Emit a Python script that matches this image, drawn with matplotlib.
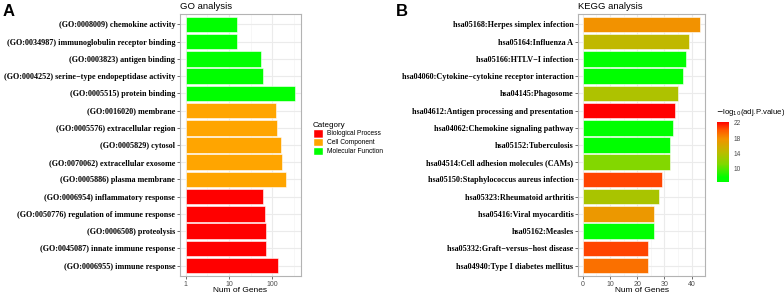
import numpy as np
import matplotlib
matplotlib.use('Agg')
import matplotlib.pyplot as plt
from matplotlib.patches import Patch
from matplotlib.colors import LinearSegmentedColormap, Normalize
from matplotlib.cm import ScalarMappable

# GO data (top to bottom)
go_terms = ['(GO:0008009) chemokine activity',
            '(GO:0034987) immunoglobulin receptor binding',
            '(GO:0003823) antigen binding',
            '(GO:0004252) serine\u2212type endopeptidase activity',
            '(GO:0005515) protein binding',
            '(GO:0016020) membrane',
            '(GO:0005576) extracellular region',
            '(GO:0005829) cytosol',
            '(GO:0070062) extracellular exosome',
            '(GO:0005886) plasma membrane',
            '(GO:0006954) inflammatory response',
            '(GO:0050776) regulation of immune response',
            '(GO:0006508) proteolysis',
            '(GO:0045087) innate immune response',
            '(GO:0006955) immune response']
go_counts = [15, 15, 56, 61, 340, 124, 131, 156, 165, 211, 61, 67, 70, 70, 133]
go_category = ['Molecular Function'] * 5 + ['Cell Component'] * 5 + ['Biological Process'] * 5
cat_names = ['Biological Process', 'Cell Component', 'Molecular Function']
cat_colors = {'Biological Process': '#FF0000', 'Cell Component': '#FFA500', 'Molecular Function': '#00FF00'}

# KEGG data (top to bottom)
kegg_terms = ['hsa05168:Herpes simplex infection',
              'hsa05164:Influenza A',
              'hsa05166:HTLV\u2212I infection',
              'hsa04060:Cytokine\u2212cytokine receptor interaction',
              'hsa04145:Phagosome',
              'hsa04612:Antigen processing and presentation',
              'hsa04062:Chemokine signaling pathway',
              'hsa05152:Tuberculosis',
              'hsa04514:Cell adhesion molecules (CAMs)',
              'hsa05150:Staphylococcus aureus infection',
              'hsa05323:Rheumatoid arthritis',
              'hsa05416:Viral myocarditis',
              'hsa05162:Measles',
              'hsa05332:Graft\u2212versus\u2212host disease',
              'hsa04940:Type I diabetes mellitus']
kegg_counts = [43, 39, 38, 37, 35, 34, 33, 32, 32, 29, 28, 26, 26, 24, 24]
kegg_logp = [17.8, 14.6, 7.0, 7.0, 13.6, 22.3, 7.0, 7.0, 11.4, 20.6, 13.4, 17.4, 7.0, 20.6, 19.2]

serif = 'Liberation Serif'
sans = 'Liberation Sans'
grid_c = '#EBEBEB'
border_c = '#B3B3B3'

cmap = LinearSegmentedColormap.from_list('gr', [(0.0, '#00FF00'), (0.08, '#00FF00'), (0.3, '#80D800'),
                                                 (0.5, '#BDBB00'), (0.72, '#F39200'), (0.86, '#FF5A00'),
                                                 (1.0, '#FF0000')])
norm = Normalize(6.5, 22.3)

fig = plt.figure(figsize=(7.84, 2.94), dpi=100)


def style_axes(ax):
    ax.set_facecolor('white')
    for s in ax.spines.values():
        s.set_color(border_c)
        s.set_linewidth(0.8)
    ax.set_axisbelow(True)
    ax.grid(True, which='major', color=grid_c, lw=0.8)
    ax.grid(True, which='minor', axis='x', color='#F4F4F4', lw=0.5)
    ax.tick_params(axis='y', length=2, width=0.5, color='#333333', pad=1.5)
    ax.tick_params(axis='x', length=2, width=0.5, color='#333333', pad=1.5, labelsize=5, labelcolor='#4D4D4D')
    for lab in ax.get_yticklabels():
        lab.set_fontfamily(serif)
        lab.set_fontweight('bold')
        lab.set_fontsize(5.85)
    for lab in ax.get_xticklabels():
        lab.set_fontfamily(sans)
    pos = ax.get_position()
    fig.text((pos.x0 + pos.x1) / 2, 1 - 290 / 294, 'Num of Genes', fontfamily=sans, fontsize=6,
             ha='center', va='center')


# Panel A
axA = fig.add_axes([180 / 784, 1 - 276 / 294, 120.7 / 784, 262 / 294])
n = len(go_terms)
y = np.arange(n)
axA.barh(y, np.array(go_counts) - 1, left=1, height=0.9,
         color=[cat_colors[c] for c in go_category], edgecolor='white', lw=0.4)
axA.set_xscale('log')
axA.set_xlim(10 ** -0.13, 10 ** 2.656)
axA.set_xticks([1, 10, 100])
axA.set_xticklabels(['1', '10', '100'])
axA.set_xticks([10 ** 0.5, 10 ** 1.5, 10 ** 2.5], minor=True)
axA.set_xticklabels([], minor=True)
axA.tick_params(axis='x', which='minor', length=0)
axA.set_ylim(n - 0.4, -0.6)
axA.set_yticks(y)
axA.set_yticklabels(go_terms)
style_axes(axA)
axA.set_title('GO analysis', loc='left', fontfamily=sans, fontsize=6.8, pad=3.5)

handles = [Patch(facecolor=cat_colors[c], edgecolor='white') for c in cat_names]
leg = fig.legend(handles, cat_names, loc='upper left', bbox_to_anchor=(308 / 784, 1 - 117 / 294),
                 frameon=False, title='Category', alignment='left',
                 prop={'family': sans, 'size': 4.8}, handlelength=1.5, handleheight=1.6,
                 handletextpad=0.6, labelspacing=0.05, borderpad=0.2)
leg.get_title().set_fontfamily(sans)
leg.get_title().set_fontsize(5.8)

# Panel B
axB = fig.add_axes([578.3 / 784, 1 - 276 / 294, 126.7 / 784, 262 / 294])
axB.barh(y, kegg_counts, height=0.9, color=cmap(norm(np.array(kegg_logp))), edgecolor='white', lw=0.4)
axB.set_xlim(-1.6, 44.9)
axB.set_xticks([0, 10, 20, 30, 40])
axB.set_xticks([5, 15, 25, 35], minor=True)
axB.tick_params(axis='x', which='minor', length=0)
axB.set_ylim(n - 0.4, -0.6)
axB.set_yticks(y)
axB.set_yticklabels(kegg_terms)
style_axes(axB)
axB.set_title('KEGG analysis', loc='left', fontfamily=sans, fontsize=6.8, pad=3.5)

cax = fig.add_axes([716.7 / 784, 1 - 182.3 / 294, 12.3 / 784, 60.6 / 294])
cb = fig.colorbar(ScalarMappable(norm=norm, cmap=cmap), cax=cax)
cb.outline.set_visible(False)
cb.set_ticks([10, 14, 18, 22])
cax.tick_params(length=2, width=0.5, color='white', labelsize=4.8, labelcolor='#4D4D4D', pad=1.5)
for lab in cax.get_yticklabels():
    lab.set_fontfamily(sans)
fig.text(716 / 784, 1 - 113 / 294, '$-$log$_{10}$(adj.P.value)', fontfamily=sans, fontsize=5.6,
         ha='left', va='center')

# panel labels
fig.text(3 / 784, 1 - 11 / 294, 'A', fontfamily=sans, fontweight='bold', fontsize=12, ha='left', va='center')
fig.text(396 / 784, 1 - 11 / 294, 'B', fontfamily=sans, fontweight='bold', fontsize=12, ha='left', va='center')

fig.savefig('out.png', dpi=100)
